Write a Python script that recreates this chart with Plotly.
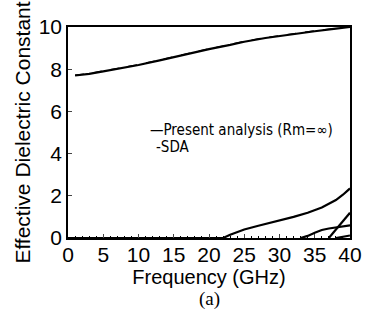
import plotly.graph_objects as go

# Mode 1 (fundamental)
f1 = [1, 3, 5, 8, 10, 13, 15, 18, 20, 23, 25, 28, 30, 33, 35, 38, 40]
e1 = [7.7, 7.78, 7.9, 8.08, 8.2, 8.42, 8.58, 8.8, 8.95, 9.15, 9.3, 9.48, 9.58, 9.72, 9.8, 9.92, 10.0]
e1_sda = [7.72, 7.8, 7.92, 8.1, 8.22, 8.44, 8.6, 8.82, 8.97, 9.17, 9.32, 9.5, 9.6, 9.74, 9.82, 9.94, 10.02]
# Mode 2
f2 = [0, 22, 23, 25, 27, 30, 32, 34, 36, 38, 39, 40]
e2 = [0, 0, 0.15, 0.4, 0.58, 0.82, 1.0, 1.2, 1.45, 1.8, 2.05, 2.35]
# Mode 3
f3 = [33, 34, 35, 36, 37, 38, 39, 40]
e3 = [0, 0.1, 0.25, 0.38, 0.45, 0.5, 0.55, 0.6]
# Mode 4
f4 = [37, 38, 39, 40]
e4 = [0, 0.4, 0.8, 1.2]
# Mode 5
f5 = [38, 39, 40]
e5 = [0, 0.05, 0.12]

x_ticks = [0, 5, 10, 15, 20, 25, 30, 35, 40]
y_ticks = [0, 2, 4, 6, 8, 10]

fig = go.Figure()
for fx, ey in [(f1, e1), (f2, e2), (f3, e3), (f4, e4), (f5, e5)]:
    fig.add_trace(go.Scatter(x=fx, y=ey, mode="lines",
                             line=dict(color="black", width=2.2), showlegend=False))
fig.add_trace(go.Scatter(x=f1, y=e1_sda, mode="lines",
                         line=dict(color="black", width=1.2, dash="dash"), showlegend=False))

font = "Liberation Sans, Arial, sans-serif"
narrow = "DejaVu Sans Condensed, Liberation Sans Narrow, Liberation Sans, sans-serif"
fig.update_layout(
    width=374, height=324,
    margin=dict(l=68, r=13, t=27, b=86),
    paper_bgcolor="white", plot_bgcolor="white",
    font=dict(family=font, color="black", size=18),
    xaxis=dict(range=[0, 40], tickvals=x_ticks, ticks="inside", ticklen=4,
               showline=True, linecolor="black", linewidth=1.5, mirror=True,
               showgrid=False, zeroline=False, tickfont=dict(size=21),
               ticklabelstandoff=-3,
               minor=dict(dtick=1, ticks="inside", ticklen=2, tickcolor="black"),
               title=dict(text="Frequency (GHz)", font=dict(size=20), standoff=0)),
    yaxis=dict(range=[0, 10], tickvals=y_ticks, ticks="inside", ticklen=4,
               showline=True, linecolor="black", linewidth=1.5, mirror=True,
               showgrid=False, zeroline=False, tickfont=dict(size=21),
               title=dict(text="Effective Dielectric Constant", font=dict(size=21), standoff=2)),
)
fig.add_annotation(x=0.285, y=0.512, xref="paper", yref="paper", xanchor="left",
                   yanchor="middle", text="—Present analysis (Rm=∞)", showarrow=False,
                   font=dict(family=narrow, size=15))
fig.add_annotation(x=0.305, y=0.43, xref="paper", yref="paper", xanchor="left",
                   yanchor="middle", text="-SDA", showarrow=False,
                   font=dict(family=narrow, size=15))
fig.add_annotation(x=0.5, y=-0.29, xref="paper", yref="paper", yanchor="middle",
                   text="(a)", showarrow=False,
                   font=dict(family="Liberation Serif, serif", size=19))
fig.write_html("out.html")
